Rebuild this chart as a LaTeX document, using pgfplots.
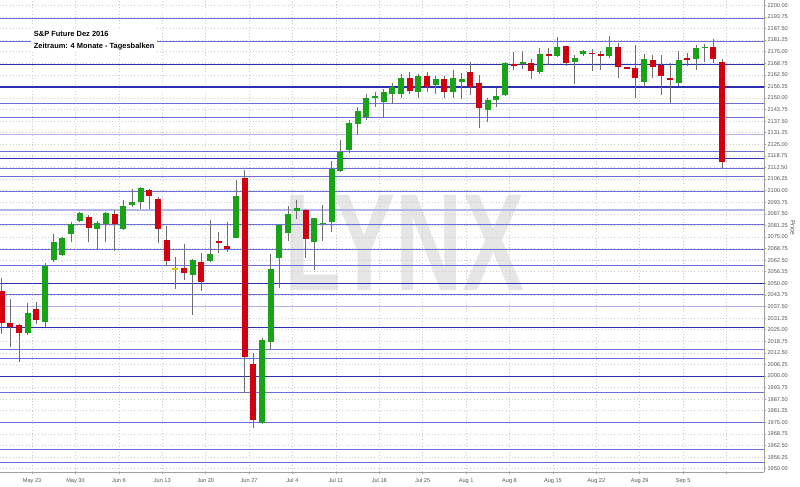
\documentclass[border=0pt]{standalone}
\usepackage{fontspec}
\setmainfont{Liberation Sans}
\usepackage{graphicx}
\usepackage{pgfplots}
\usepackage{pgfplotstable}
\pgfplotsset{compat=1.18}

\definecolor{upcol}{HTML}{18A318}
\definecolor{dncol}{HTML}{D0000E}
\definecolor{dojicol}{HTML}{E8C400}
\definecolor{wickcol}{HTML}{6E6E6E}
\definecolor{lvlmid}{HTML}{6E6ED6}
\definecolor{lvldark}{HTML}{2E2EB0}
\definecolor{lvllight}{HTML}{B4B4EC}
\definecolor{wmark}{HTML}{E6E6E6}
\definecolor{lblgray}{HTML}{555555}

% daily candles, i = trading day index, d = 1 up / -1 down / 0 doji
\pgfplotstableread{
i  o      h      l      c      d
0  2046.0 2052.7 2022.5 2028.4 -1
1  2028.4 2041.5 2015.8 2026.6 -1
2  2027.5 2028.0 2007.7 2023.0 -1
3  2023.4 2039.6 2022.1 2034.2 1
4  2036.2 2040.1 2028.1 2030.2 -1
5  2029.3 2060.8 2026.6 2059.5 1
6  2062.6 2076.5 2061.7 2072.1 1
7  2065.4 2075.0 2064.7 2074.6 1
8  2076.5 2083.3 2072.5 2082.0 1
9  2083.6 2088.4 2083.3 2087.8 1
10 2085.9 2086.9 2072.5 2080.0 -1
11 2079.2 2083.6 2068.4 2082.4 1
12 2081.8 2088.6 2072.5 2088.1 1
13 2087.2 2089.6 2067.4 2081.8 -1
14 2079.4 2095.0 2078.9 2091.7 1
15 2092.3 2100.7 2091.0 2093.8 1
16 2094.0 2102.1 2089.9 2101.3 1
17 2100.4 2100.7 2089.9 2097.3 -1
18 2095.3 2096.7 2071.9 2079.3 -1
19 2073.4 2080.9 2059.4 2062.0 -1
20 2057.7 2064.0 2046.8 2057.7 0
21 2058.1 2071.1 2051.8 2055.4 -1
22 2054.5 2063.1 2032.9 2062.6 1
23 2061.3 2066.2 2046.0 2050.9 -1
24 2062.0 2084.2 2061.7 2066.0 1
25 2072.6 2077.5 2066.2 2072.3 -1
26 2070.3 2083.3 2067.1 2068.6 -1
27 2074.6 2105.8 2074.3 2097.1 1
28 2107.0 2111.1 1990.7 2010.4 -1
29 2006.5 2012.3 1972.1 1976.3 -1
30 1974.8 2020.7 1974.3 2019.4 1
31 2018.5 2065.6 2014.0 2057.7 1
32 2063.8 2081.5 2047.3 2081.5 1
33 2077.0 2091.7 2073.0 2087.4 1
34 2089.2 2095.0 2084.7 2090.5 1
35 2089.6 2090.0 2063.5 2073.8 -1
36 2072.5 2085.1 2057.2 2085.1 1
37 2082.0 2092.3 2073.0 2082.7 1
38 2083.3 2116.2 2077.9 2111.7 1
39 2110.8 2127.3 2110.2 2121.0 1
40 2121.9 2138.1 2120.2 2136.7 1
41 2136.0 2145.0 2130.0 2143.0 1
42 2140.0 2152.0 2138.0 2150.0 1
43 2150.0 2153.0 2145.0 2151.0 1
44 2148.0 2155.0 2140.0 2153.0 1
45 2152.0 2158.0 2147.0 2156.0 1
46 2152.0 2163.0 2150.0 2161.0 1
47 2161.0 2164.0 2152.0 2154.0 -1
48 2153.0 2163.0 2150.0 2162.0 1
49 2162.0 2164.0 2153.0 2156.0 -1
50 2157.0 2162.0 2152.0 2160.0 1
51 2160.0 2162.0 2150.0 2153.0 -1
52 2153.0 2165.0 2150.0 2161.0 1
53 2158.5 2163.7 2149.3 2160.1 1
54 2163.9 2169.2 2151.6 2156.1 -1
55 2157.9 2162.4 2133.6 2144.4 -1
56 2143.5 2149.8 2137.2 2148.9 1
57 2148.9 2155.5 2145.3 2151.1 1
58 2151.6 2169.6 2151.1 2168.7 1
59 2168.3 2174.6 2165.1 2167.6 -1
60 2168.3 2175.5 2165.5 2169.4 1
61 2168.7 2170.9 2160.1 2164.7 -1
62 2163.9 2176.8 2162.8 2173.6 1
63 2173.7 2176.8 2167.8 2172.6 -1
64 2172.6 2182.7 2172.3 2177.7 1
65 2178.0 2178.0 2167.3 2168.7 -1
66 2169.6 2173.2 2157.5 2171.4 1
67 2173.6 2176.1 2172.9 2175.5 1
68 2174.4 2176.3 2164.6 2173.6 -1
69 2173.7 2175.5 2165.1 2172.8 -1
70 2172.6 2183.4 2171.4 2177.3 1
71 2177.3 2179.5 2160.9 2166.9 -1
72 2166.5 2166.5 2165.6 2165.6 -1
73 2166.0 2178.6 2149.8 2160.6 -1
74 2158.8 2173.7 2156.1 2171.0 1
75 2170.5 2173.2 2160.6 2166.9 -1
76 2167.8 2173.2 2151.6 2161.9 -1
77 2160.6 2168.7 2147.1 2159.7 -1
78 2157.9 2175.5 2156.5 2170.5 1
79 2171.6 2174.1 2167.3 2170.9 -1
80 2171.0 2178.6 2165.1 2176.8 1
81 2176.8 2179.1 2169.2 2177.7 1
82 2177.3 2181.8 2168.7 2170.9 -1
83 2169.6 2170.9 2112.1 2115.6 -1
}\candles

\begin{document}
\begin{tikzpicture}
\path[use as bounding box] (0,0) rectangle (600pt,-364.5pt);

% watermark
\begin{scope}[x=0.75pt,y=-0.75pt]
  \node[text=wmark, inner sep=0pt] at (405,242.5)
    {\resizebox{180pt}{71.25pt}{\bfseries LYNX}};
\end{scope}

\begin{axis}[
    at={(0,0)}, anchor=north west,
    scale only axis,
    width=573pt, height=354pt,
    xmin=-0.196, xmax=87.82,
    ymin=1948.2, ymax=2202.86,
    axis x line*=bottom, axis y line*=right,
    axis line style={gray!75, line width=0.5pt},
    xtick={3.5,8.5,...,83.5},
    xticklabels={May 23,May 30,Jun 6,Jun 13,Jun 20,Jun 27,Jul 4,Jul 11,Jul 18,Jul 25,Aug 1,Aug 8,Aug 15,Aug 22,Aug 29,Sep 5,{}},
    ytick={1950,1956.25,...,2200},
    /pgf/number format/.cd, fixed, fixed zerofill, precision=2, 1000 sep={}, assume math mode=true,
    /pgfplots/.cd,
    tick align=outside,
    major tick length=1.5pt,
    tick style={gray!75, line width=0.4pt},
    x tick label style={font=\fontsize{4.2}{5}\selectfont, text=lblgray},
    y tick label style={font=\fontsize{4.2}{5}\selectfont, text=lblgray, anchor=west, inner sep=1pt},
    grid=major,
    major grid style={gray!40, dotted, line width=0.4pt},
    clip=true,
  ]

  % horizontal level lines
  \pgfplotsinvokeforeach{2193.0,2180.4,2147.1,2139.4,2121.4,2112.1,2107.5,2099.4,2081.5,2068.0,2059.9,2044.1,2014.4,2009.6,1991.2,1975.1,1960.1,1953.3}{
    \addplot[draw=lvlmid, line width=0.7pt, forget plot] coordinates {(-1,#1) (90,#1)};
  }
  \pgfplotsinvokeforeach{2130.4,2089.6,2037.4}{
    \addplot[draw=lvllight, line width=1.1pt, forget plot] coordinates {(-1,#1) (90,#1)};
  }
  \pgfplotsinvokeforeach{2168.2,2155.9,2117.5,2050.0,2026.3,1999.6}{
    \addplot[draw=lvldark, line width=1.0pt, forget plot] coordinates {(-1,#1) (90,#1)};
  }

  % wicks
  \addplot[draw=none, no markers, forget plot,
    error bars/.cd, y dir=both, y explicit, error mark=none,
    error bar style={draw=wickcol, line width=0.6pt}]
    table[x=i, y expr={(\thisrow{h}+\thisrow{l})/2},
          y error expr={(\thisrow{h}-\thisrow{l})/2}] {\candles};

  % bodies up
  \addplot[draw=none, no markers, forget plot,
    restrict expr to domain={\thisrow{d}}{0.5:1.5},
    error bars/.cd, y dir=both, y explicit, error mark=none,
    error bar style={draw=upcol, line width=4.5pt}]
    table[x=i, y expr={(\thisrow{o}+\thisrow{c})/2},
          y error expr={max(abs(\thisrow{c}-\thisrow{o})/2,0.45)}] {\candles};

  % bodies down
  \addplot[draw=none, no markers, forget plot,
    restrict expr to domain={\thisrow{d}}{-1.5:-0.5},
    error bars/.cd, y dir=both, y explicit, error mark=none,
    error bar style={draw=dncol, line width=4.5pt}]
    table[x=i, y expr={(\thisrow{o}+\thisrow{c})/2},
          y error expr={max(abs(\thisrow{c}-\thisrow{o})/2,0.45)}] {\candles};

  % doji
  \addplot[draw=none, no markers, forget plot,
    restrict expr to domain={\thisrow{d}}{-0.5:0.5},
    error bars/.cd, y dir=both, y explicit, error mark=none,
    error bar style={draw=dojicol, line width=4.5pt}]
    table[x=i, y expr={(\thisrow{o}+\thisrow{c})/2},
          y error expr={max(abs(\thisrow{c}-\thisrow{o})/2,0.45)}] {\candles};
\end{axis}

\begin{scope}[x=0.75pt,y=-0.75pt]
  \node[fill=white, anchor=north west, align=left, inner sep=2pt,
        font=\fontsize{5.6}{9}\selectfont\bfseries]
    at (31,28) {S\&P Future Dez 2016\\Zeitraum: 4 Monate - Tagesbalken};
  \node[rotate=-90, text=lblgray, font=\fontsize{4.8}{6}\selectfont]
    at (793,228) {Price};
\end{scope}
\end{tikzpicture}
\end{document}
